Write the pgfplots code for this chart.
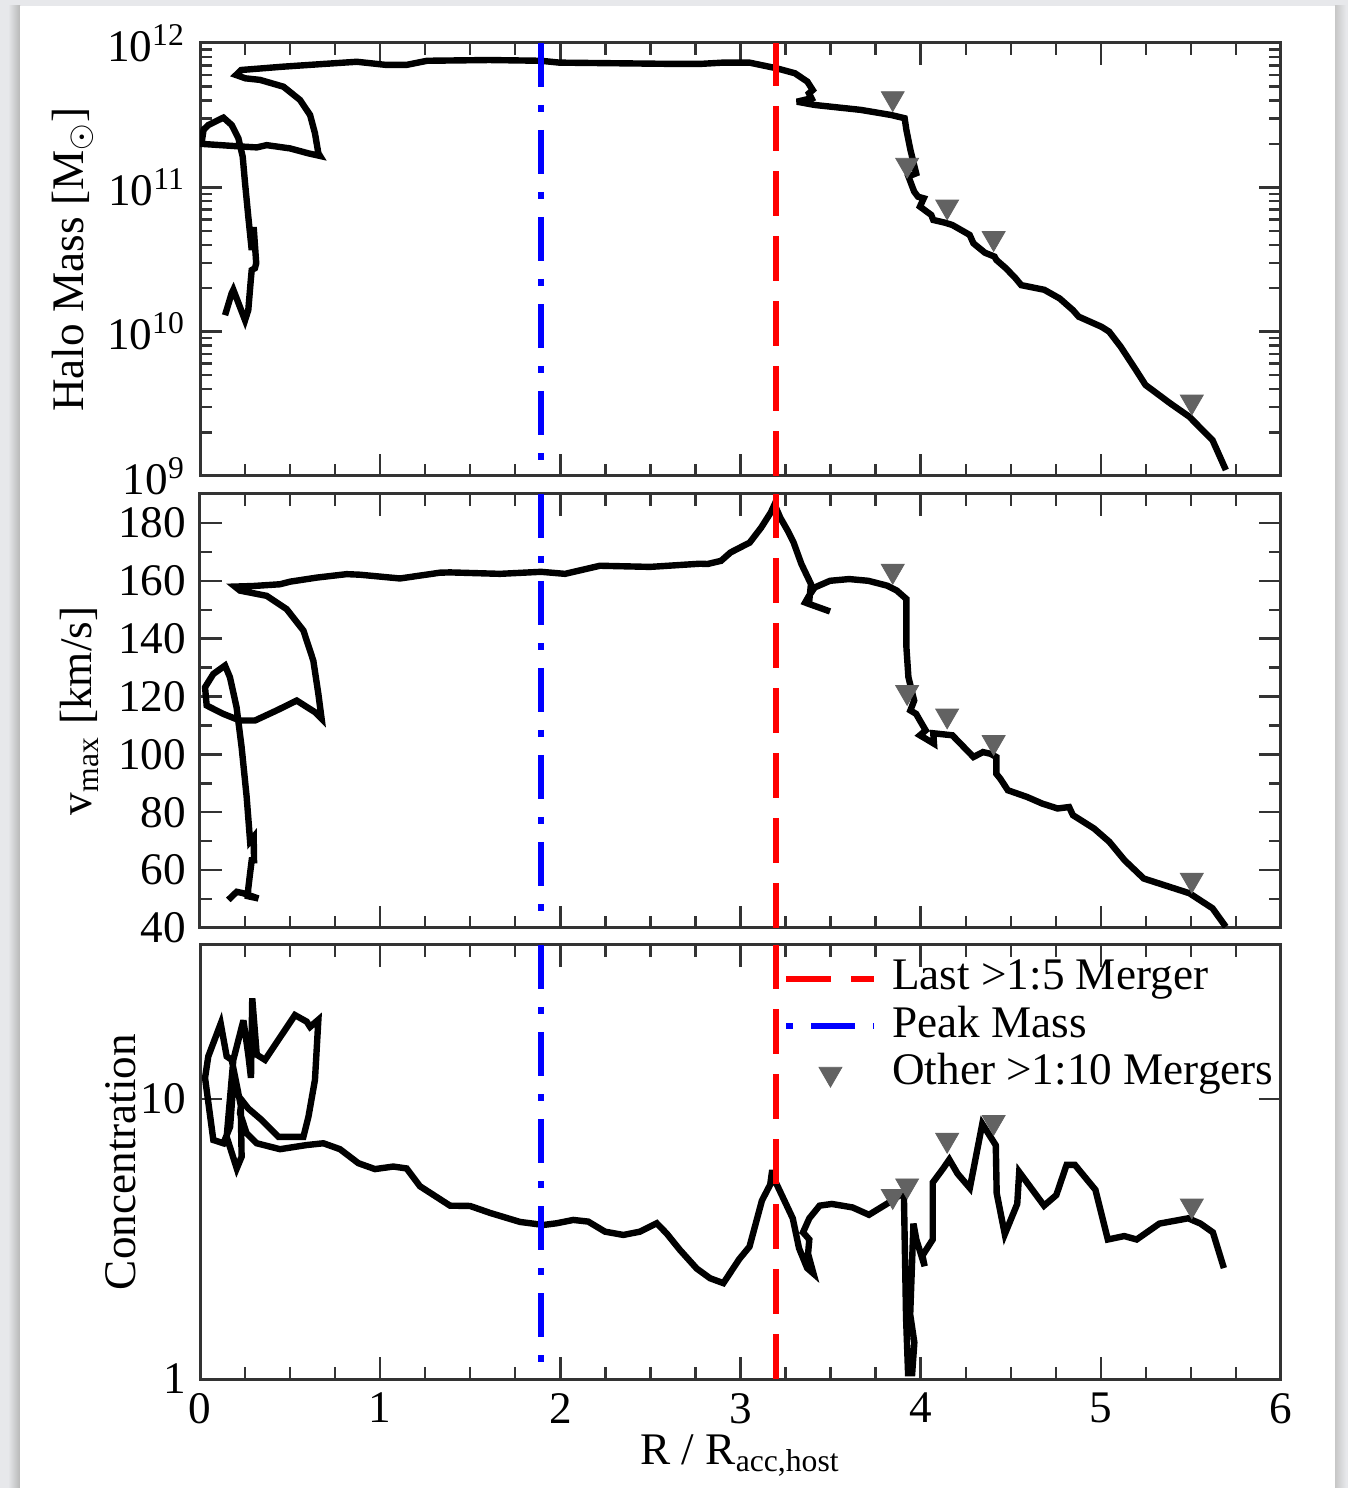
\documentclass[border=0pt]{standalone}
\usepackage{pgfplots}
\pgfplotsset{compat=1.18}
\usepackage{fontspec}
\setmainfont{Liberation Serif}

\definecolor{pagebg}{RGB}{231,232,235}
\definecolor{mergergray}{RGB}{98,98,98}
\newcommand{\plotfont}{\fontsize{11.3}{13}\selectfont}

\pgfplotsset{
  panel/.style={
    scale only axis, width=270.25pt, height=108.5pt,
    xmin=0, xmax=6, xtick={0,...,6}, minor x tick num=3,
    tick align=inside, major tick length=5.5pt, minor tick length=3pt,
    axis line style={line width=0.75pt, black!80},
    every tick/.append style={line width=0.6pt, black!80},
    tick label style={font=\plotfont},
    label style={font=\plotfont},
    /pgf/number format/assume math mode=true,
  },
  track/.style={black, line width=1.6pt, miter limit=4, forget plot},
  mergers/.style={only marks, mark=triangle*, mark size=3.3pt,
    mark options={rotate=180, fill=mergergray, draw=mergergray, line width=0.2pt}},
  peakline/.style={blue, line width=1.5pt, dash pattern=on 11pt off 4.5pt on 1.75pt off 4.5pt},
  mergerline/.style={red, line width=1.5pt, dash pattern=on 11.25pt off 5pt},
  short line legend/.style={legend image code/.code={\draw[##1] (0pt,0pt) -- (22pt,0pt);}},
  dotfirst line legend/.style={legend image code/.code={\draw[##1, dash phase=15.5pt] (0pt,0pt) -- (22pt,0pt);}},
  mark legend/.style={legend image code/.code={\draw[mark repeat=2, mark phase=2, ##1] plot coordinates {(0pt,0pt) (11pt,0pt) (22pt,0pt)};}},
}

% halo mass track
\pgfplotstableread{
x      m
5.694  1.10e9
5.620  1.77e9
5.490  2.58e9
5.386  3.18e9
5.248  4.27e9
5.195  5.42e9
5.110  7.87e9
5.046  1.00e10
5.004  1.08e10
4.877  1.27e10
4.845  1.41e10
4.771  1.70e10
4.686  1.95e10
4.558  2.10e10
4.527  2.34e10
4.473  2.75e10
4.420  3.14e10
4.410  3.31e10
4.357  3.52e10
4.293  4.09e10
4.272  4.68e10
4.176  5.48e10
4.134  5.69e10
4.070  5.94e10
4.059  6.43e10
3.996  7.35e10
4.017  8.39e10
3.985  8.61e10
3.964  9.33e10
3.932  1.19e11
3.975  1.25e11
3.943  1.82e11
3.921  2.49e11
3.911  3.01e11
3.836  3.17e11
3.667  3.44e11
3.412  3.72e11
3.313  3.92e11
3.394  4.14e11
3.380  4.48e11
3.401  4.72e11
3.371  5.40e11
3.302  6.17e11
3.200  6.68e11
3.050  7.31e11
2.902  7.31e11
2.775  7.16e11
2.637  7.16e11
2.293  7.24e11
1.995  7.31e11
1.892  7.53e11
1.605  7.62e11
1.261  7.53e11
1.146  7.05e11
1.032  7.05e11
0.871  7.41e11
0.688  7.16e11
0.459  6.85e11
0.229  6.50e11
0.200  6.00e11
0.252  5.69e11
0.333  5.55e11
0.463  4.98e11
0.555  4.03e11
0.611  3.17e11
0.638  2.37e11
0.657  1.72e11
0.666  1.65e11
0.601  1.72e11
0.500  1.86e11
0.370  1.96e11
0.315  1.89e11
0.222  1.92e11
0.008  2.00e11
0.020  2.51e11
0.046  2.70e11
0.130  3.04e11
0.176  2.70e11
0.213  2.19e11
0.237  1.63e11
0.250  1.07e11
0.268  6.27e10
0.287  3.68e10
0.298  5.30e10
0.312  2.98e10
0.305  2.75e10
0.287  2.67e10
0.282  2.28e10
0.268  1.41e10
0.250  1.20e10
0.185  1.95e10
0.176  1.85e10
0.139  1.30e10
}\masstrack

% maximum circular velocity track
\pgfplotstableread{
x      v
5.694  40.4
5.620  46.8
5.492  52.0
5.238  57.1
5.132  63.4
5.047  69.8
4.962  74.4
4.845  79.0
4.824  81.8
4.760  81.3
4.675  83.0
4.590  85.3
4.484  87.6
4.442  91.6
4.420  93.3
4.420  99.1
4.388  100.2
4.346  100.8
4.293  99.1
4.176  106.6
4.070  107.3
4.074  103.7
3.996  106.6
4.028  108.3
3.996  111.7
3.975  114.0
3.943  115.2
3.964  118.6
3.932  126.7
3.921  137.0
3.921  153.7
3.868  156.6
3.815  158.3
3.709  160.0
3.603  160.6
3.497  160.0
3.412  157.7
3.380  154.8
3.359  152.5
3.497  149.4
3.380  152.0
3.391  158.9
3.338  165.8
3.295  173.2
3.263  177.2
3.221  181.8
3.189  186.4
3.168  183.6
3.115  178.4
3.051  173.2
2.945  169.8
2.892  166.9
2.817  165.8
2.775  165.9
2.498  164.8
2.220  165.2
2.026  162.4
1.893  163.1
1.665  162.4
1.388  162.9
1.332  162.8
1.110  160.8
0.888  162.1
0.814  162.3
0.648  161.1
0.500  159.7
0.444  158.8
0.296  158.2
0.194  158.0
0.222  156.6
0.370  154.8
0.481  150.2
0.574  142.8
0.629  132.4
0.657  120.9
0.675  112.3
0.638  114.6
0.537  118.6
0.426  115.2
0.305  111.7
0.222  111.7
0.129  114.0
0.037  116.9
0.028  123.2
0.074  127.8
0.139  130.7
0.166  126.7
0.203  116.3
0.231  102.5
0.259  85.3
0.278  70.0
0.298  71.5
0.300  63.4
0.287  63.4
0.278  58.9
0.268  53.7
0.265  51.0
0.324  50.2
0.241  52.0
0.204  52.5
0.157  49.7
}\vmaxtrack

% concentration track
\pgfplotstableread{
x      c
5.683  2.49
5.622  3.34
5.553  3.59
5.485  3.75
5.325  3.59
5.199  3.15
5.130  3.24
5.039  3.15
4.970  4.74
4.913  5.25
4.856  5.82
4.810  5.82
4.753  4.54
4.685  4.16
4.547  5.49
4.536  4.22
4.467  3.29
4.422  4.61
4.417  6.84
4.342  8.15
4.273  4.81
4.205  5.41
4.159  6.08
4.125  5.65
4.067  5.03
4.067  3.15
4.010  2.76
4.022  2.53
3.976  3.15
3.960  3.59
3.942  1.70
3.965  1.35
3.953  1.05
3.930  1.05
3.919  1.65
3.907  4.54
3.885  4.54
3.827  4.28
3.713  3.86
3.622  4.10
3.507  4.22
3.439  4.16
3.382  3.75
3.347  3.34
3.382  3.15
3.375  2.80
3.405  2.38
3.370  2.49
3.325  2.93
3.290  3.75
3.187  5.18
3.176  5.57
3.165  4.95
3.119  4.34
3.050  2.97
2.993  2.68
2.905  2.20
2.831  2.29
2.757  2.48
2.664  2.89
2.590  3.31
2.535  3.60
2.442  3.36
2.350  3.27
2.248  3.36
2.155  3.65
2.072  3.70
1.980  3.60
1.906  3.55
1.776  3.64
1.610  3.92
1.499  4.15
1.388  4.16
1.221  4.88
1.147  5.65
1.073  5.74
0.971  5.62
0.879  5.90
0.777  6.62
0.685  6.95
0.592  6.85
0.444  6.62
0.315  6.95
0.259  7.54
0.222  8.89
0.231  9.92
0.268  9.25
0.343  8.41
0.435  7.33
0.574  7.33
0.602  8.65
0.638  11.7
0.657  19.2
0.611  18.1
0.592  18.9
0.527  19.95
0.361  13.8
0.315  14.4
0.290  22.9
0.283  11.9
0.268  14.4
0.241  19.1
0.185  13.8
0.148  7.33
0.204  5.65
0.231  6.22
0.226  9.50
0.176  13.8
0.148  14.2
0.115  18.6
0.046  14.2
0.028  11.9
0.074  7.14
0.130  6.95
0.167  7.96
0.190  12.5
}\conctrack

% other >1:10 mergers
\pgfplotstableread{
x      m        v      c
3.845  4.14e11  163.4  4.50
3.925  1.43e11  121.5  4.91
4.147  7.35e10  113.4  7.14
4.405  4.44e10  104.2  8.27
5.505  3.27e9   56.6   4.16
}\minormergers

\begin{document}
\begin{tikzpicture}
\useasboundingbox (0pt,0pt) rectangle (337pt,372pt);
% page and its shadow
\fill[pagebg] (0pt,0pt) rectangle (337pt,372pt);
\shade[left color=pagebg, right color=black!28] (2pt,0pt) rectangle (5pt,370.5pt);
\shade[left color=black!22, right color=pagebg] (333.75pt,0pt) rectangle (336.5pt,370.5pt);
\fill[white] (5pt,0pt) rectangle (333.75pt,370.5pt);

% --- halo mass ---
\begin{axis}[panel, at={(50pt,253pt)}, anchor=south west, height=108.25pt,
  ymode=log, log basis y=10, ymin=1e9, ymax=1e12,
  xticklabels={},
  yticklabel={10\textsuperscript{\pgfmathparse{int(round(\tick))}\pgfmathresult}},
  ylabel={Halo Mass [M\textsubscript{$\odot$}]},
  ylabel style={at={(axis description cs:-0.108,0.5)}, anchor=base}]
  \addplot[track] table[x=x, y=m] {\masstrack};
  \addplot[mergers] table[x=x, y=m] {\minormergers};
  \addplot[mergerline] coordinates {(3.195,1e9) (3.195,1e12)};
  \addplot[peakline] coordinates {(1.893,1e12) (1.893,1e9)};
\end{axis}

% --- v_max ---
\begin{axis}[panel, at={(50pt,140pt)}, anchor=south west,
  ymin=40, ymax=190, ytick={40,60,...,180}, minor y tick num=1,
  xticklabels={},
  ylabel={v\textsubscript{max} [km/s]},
  ylabel style={at={(axis description cs:-0.100,0.5)}, anchor=base}]
  \addplot[track] table[x=x, y=v] {\vmaxtrack};
  \addplot[mergers] table[x=x, y=v] {\minormergers};
  \addplot[mergerline] coordinates {(3.195,40) (3.195,190)};
  \addplot[peakline] coordinates {(1.893,190) (1.893,40)};
\end{axis}

% --- concentration ---
\begin{axis}[panel, at={(50pt,27.25pt)}, anchor=south west,
  ymode=log, ymin=1, ymax=35.5, log ticks with fixed point,
  xlabel={R / R\textsubscript{acc,host}},
  xlabel style={at={(axis description cs:0.5,-0.198)}, anchor=base},
  ylabel={Concentration},
  ylabel style={at={(axis description cs:-0.060,0.5)}, anchor=base},
  legend style={at={(axis description cs:0.539,0.979)}, anchor=north west,
    draw=none, fill=none, inner sep=0pt, font=\plotfont, row sep=0pt,
    nodes={inner sep=0.7pt, text height=8pt, text depth=2.5pt},
    /tikz/every odd column/.append style={column sep=3pt}},
  legend cell align=left]
  \addplot[track] table[x=x, y=c] {\conctrack};
  \addplot[mergerline, short line legend] coordinates {(3.195,1) (3.195,35.5)};
  \addlegendentry{Last >1:5 Merger}
  \addplot[peakline, dotfirst line legend] coordinates {(1.893,35.5) (1.893,1)};
  \addlegendentry{Peak Mass}
  \addplot[mergers, mark legend] table[x=x, y=c] {\minormergers};
  \addlegendentry{Other >1:10 Mergers}
\end{axis}
\end{tikzpicture}
\end{document}
